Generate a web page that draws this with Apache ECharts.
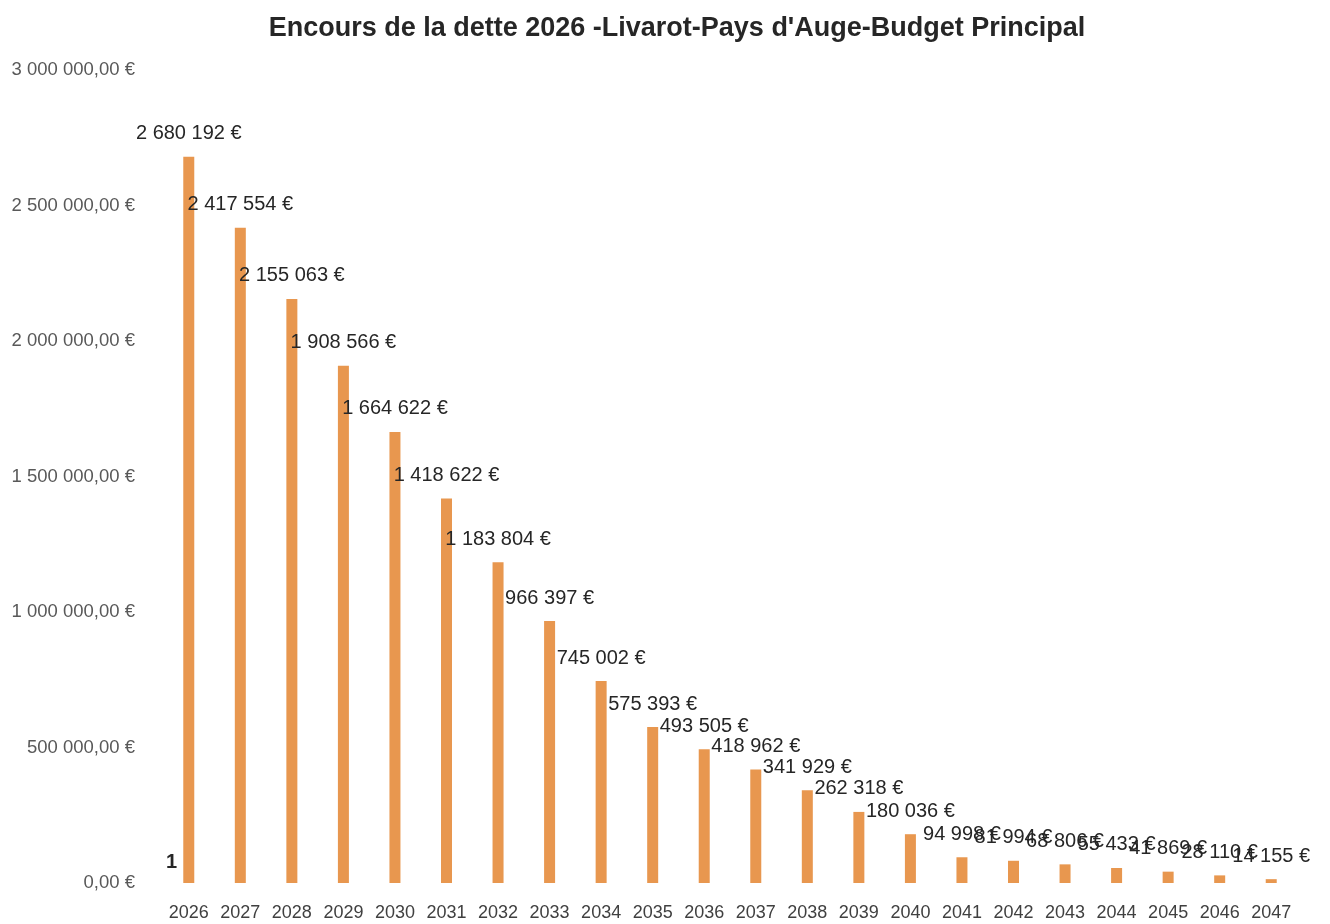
<!DOCTYPE html>
<html>
<head>
<meta charset="utf-8">
<title>Encours de la dette 2026</title>
<script src="https://cdn.jsdelivr.net/npm/echarts@6/dist/echarts.min.js"></script>
<style>
  html, body { margin: 0; padding: 0; background: #fff; }
  #main { width: 1330px; height: 924px; }
</style>
</head>
<body>
<div id="main"></div>
<script>
// années et encours de la dette
var annees = ['2026','2027','2028','2029','2030','2031','2032','2033','2034','2035','2036',
              '2037','2038','2039','2040','2041','2042','2043','2044','2045','2046','2047'];
var encours = [2680192, 2417554, 2155063, 1908566, 1664622, 1418622, 1183804, 966397, 745002,
               575393, 493505, 418962, 341929, 262318, 180036, 94998, 81994, 68806, 55433,
               41869, 28110, 14155];
var yTicks = [0, 500000, 1000000, 1500000, 2000000, 2500000, 3000000];

// format français : espaces pour les milliers
function milliers(n){
    return String(Math.round(n)).replace(/\B(?=(\d{3})+(?!\d))/g, ' ');
}

var chart = echarts.init(document.getElementById('main'));
var option = {
    animation: false,
    title: {
        text: "Encours de la dette 2026 -Livarot-Pays d'Auge-Budget Principal",
        left: 672,
        textAlign: 'center',
        top: 10,
        textStyle: {
            fontFamily: 'Liberation Sans',
            fontSize: 27,
            fontWeight: 'bold',
            color: '#262626'
        }
    },
    grid: { left: 163, right: 33, top: 70, bottom: 41 },
    xAxis: {
        type: 'category',
        data: annees,
        axisLine: { show: false },
        axisTick: { show: false },
        axisLabel: {
            interval: 0,
            margin: 21,
            fontFamily: 'Liberation Sans',
            fontSize: 18,
            color: '#404040'
        }
    },
    yAxis: {
        type: 'value',
        min: yTicks[0],
        max: yTicks[yTicks.length - 1],
        interval: 500000,
        splitLine: { show: false },
        axisLine: { show: false },
        axisTick: { show: false },
        axisLabel: {
            margin: 28,
            fontFamily: 'Liberation Sans',
            fontSize: 18.5,
            color: '#595959',
            formatter: function(v){ return milliers(v) + ',00 €'; }
        }
    },
    series: [{
        type: 'bar',
        data: encours,
        barWidth: 11,
        itemStyle: { color: '#E8974F' },
        label: {
            show: true,
            position: 'top',
            distance: 13,
            fontFamily: 'Liberation Sans',
            fontSize: 20,
            color: '#262626',
            formatter: function(p){ return milliers(p.value) + ' €'; }
        }
    }],
    graphic: [{
        type: 'text',
        left: 166,
        top: 852,
        style: {
            text: '1',
            fontFamily: 'Liberation Sans',
            fontSize: 20,
            fontWeight: 'bold',
            fill: '#262626'
        }
    }]
};
chart.setOption(option);
</script>
</body>
</html>
